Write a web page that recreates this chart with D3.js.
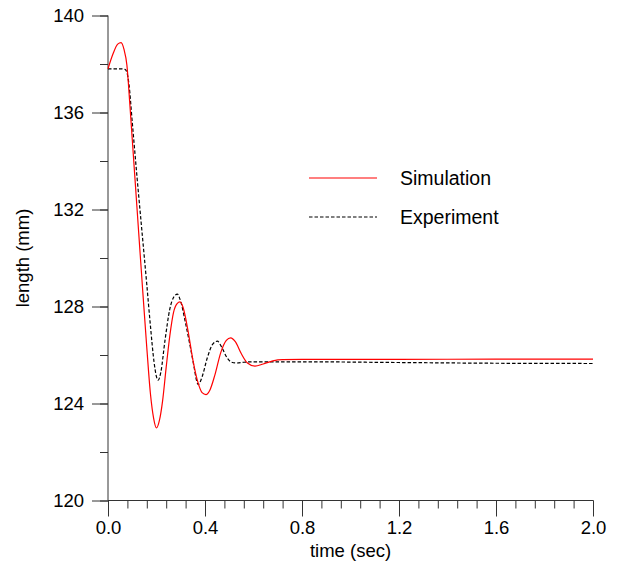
<!DOCTYPE html>
<html>
<head>
<meta charset="utf-8">
<script src="https://cdn.jsdelivr.net/npm/d3@7"></script>
<style>
  body { margin: 0; background: #fff; }
  text { font-family: "Liberation Sans", Arial, sans-serif; }
</style>
</head>
<body>
<svg width="620" height="571"></svg>
<script>

// simulation curve, [time (sec), length (mm)]
const simulation = [
  [0.000, 137.80], [0.020, 138.40], [0.040, 138.82], [0.054, 138.88],
  [0.066, 138.60], [0.078, 137.95], [0.090, 136.35], [0.100, 134.90],
  [0.120, 132.00], [0.140, 129.10], [0.160, 126.30], [0.175, 124.40],
  [0.188, 123.40], [0.200, 122.99], [0.212, 123.30], [0.225, 124.10],
  [0.240, 125.50], [0.255, 126.80], [0.270, 127.75], [0.285, 128.12],
  [0.297, 128.19], [0.310, 127.95], [0.330, 127.00], [0.350, 125.80],
  [0.370, 124.90], [0.388, 124.45], [0.404, 124.37], [0.420, 124.55],
  [0.440, 125.15], [0.465, 126.10], [0.488, 126.60], [0.506, 126.71],
  [0.525, 126.55], [0.550, 126.05], [0.575, 125.67], [0.606, 125.54],
  [0.640, 125.63], [0.680, 125.76], [0.720, 125.81], [0.800, 125.82],
  [1.200, 125.82], [1.600, 125.83], [2.000, 125.83]
];

// experiment curve, [time (sec), length (mm)]
const experiment = [
  [0.000, 137.80], [0.050, 137.80], [0.070, 137.78], [0.078, 137.65],
  [0.086, 137.20], [0.100, 135.60], [0.120, 133.30], [0.140, 131.10],
  [0.160, 128.90], [0.175, 127.20], [0.190, 125.70], [0.200, 125.10],
  [0.207, 124.96], [0.218, 125.30], [0.235, 126.60], [0.255, 127.90],
  [0.272, 128.40], [0.286, 128.51], [0.300, 128.20], [0.320, 127.30],
  [0.340, 126.30], [0.355, 125.50], [0.365, 124.95], [0.372, 124.78],
  [0.388, 125.10], [0.410, 125.90], [0.432, 126.45], [0.451, 126.57],
  [0.470, 126.30], [0.490, 125.90], [0.510, 125.70], [0.531, 125.67],
  [0.560, 125.70], [0.600, 125.72], [0.800, 125.72], [1.200, 125.69],
  [1.600, 125.66], [2.000, 125.65]
];

const x_major = [0, 0.4, 0.8, 1.2, 1.6, 2.0];
const x_minor = d3.range(0, 2.0001, 0.08);
const y_major = [120, 124, 128, 132, 136, 140];
const y_minor = d3.range(120, 140.001, 2);

const legend_items = [
  { label: "Simulation", color: "#ff0000", dash: null },
  { label: "Experiment", color: "#000000", dash: "3.5,2" }
];

const svg    = d3.select("svg");
const margin = { left: 108, right: 27, top: 15.5, bottom: 70.5 };
const width  = +svg.attr("width");
const height = +svg.attr("height");

const x = d3.scaleLinear().domain([0, 2]).range([margin.left, width - margin.right]);
const y = d3.scaleLinear().domain([120, 140]).range([height - margin.bottom, margin.top]);

const axis_color = "#333";
const tick_font  = 18.5;

// minor ticks first, majors drawn over them
svg.append("g")
  .attr("transform", `translate(0,${y(120)})`)
  .call(d3.axisBottom(x).tickValues(x_minor).tickSize(8).tickFormat(""))
  .call(g => g.select(".domain").remove())
  .call(g => g.selectAll("line").attr("stroke", axis_color));

svg.append("g")
  .attr("transform", `translate(0,${y(120)})`)
  .call(d3.axisBottom(x).tickValues(x_major).tickSize(16).tickPadding(4)
    .tickFormat(d3.format(".1f")))
  .call(g => g.select(".domain").attr("d", `M${x(0)},0H${x(2)}`).attr("stroke", axis_color))
  .call(g => g.selectAll("line").attr("stroke", axis_color))
  .call(g => g.selectAll("text").attr("font-size", tick_font).attr("fill", "#000")
    .attr("font-family", "Liberation Sans, Arial, sans-serif"));

svg.append("g")
  .attr("transform", `translate(${x(0)},0)`)
  .call(d3.axisLeft(y).tickValues(y_minor).tickSize(8).tickFormat(""))
  .call(g => g.select(".domain").remove())
  .call(g => g.selectAll("line").attr("stroke", axis_color));

svg.append("g")
  .attr("transform", `translate(${x(0)},0)`)
  .call(d3.axisLeft(y).tickValues(y_major).tickSize(16).tickPadding(8)
    .tickFormat(d3.format("d")))
  .call(g => g.select(".domain").attr("d", `M0,${y(120)}V${y(140)}`).attr("stroke", axis_color))
  .call(g => g.selectAll("line").attr("stroke", axis_color))
  .call(g => g.selectAll("text").attr("font-size", tick_font).attr("fill", "#000")
    .attr("font-family", "Liberation Sans, Arial, sans-serif"));

// axis titles
svg.append("text")
  .attr("x", x(1))
  .attr("y", 557)
  .attr("text-anchor", "middle")
  .attr("font-size", tick_font)
  .text("time (sec)");

svg.append("text")
  .attr("transform", `translate(29,${y(130)}) rotate(-90)`)
  .attr("text-anchor", "middle")
  .attr("font-size", tick_font)
  .text("length (mm)");

const line = d3.line()
  .curve(d3.curveMonotoneX)
  .x(d => x(d[0]))
  .y(d => y(d[1]));

svg.append("path")
  .datum(experiment)
  .attr("d", line)
  .attr("fill", "none")
  .attr("stroke", "#000")
  .attr("stroke-width", 1.2)
  .attr("stroke-dasharray", "3.5,2");

svg.append("path")
  .datum(simulation)
  .attr("d", line)
  .attr("fill", "none")
  .attr("stroke", "#ff0000")
  .attr("stroke-width", 1.2);

// legend
const legend = svg.append("g");
legend_items.forEach(function(d, i) {
  const ly = 178 + i * 39;
  legend.append("line")
    .attr("x1", 309).attr("x2", 377)
    .attr("y1", ly).attr("y2", ly)
    .attr("stroke", d.color)
    .attr("stroke-width", 1.2)
    .attr("stroke-dasharray", d.dash);
  legend.append("text")
    .attr("x", 400)
    .attr("y", ly)
    .attr("dy", "0.35em")
    .attr("font-size", 19.5)
    .text(d.label);
});

</script>
</body>
</html>
